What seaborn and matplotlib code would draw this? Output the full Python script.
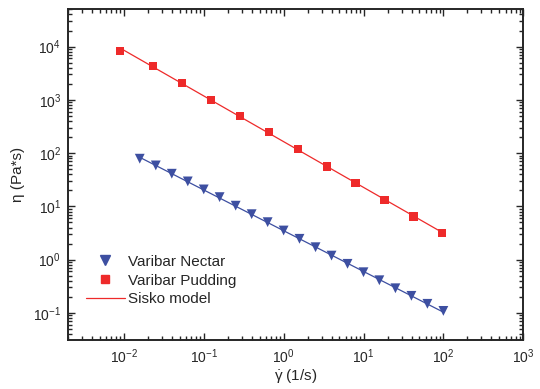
import numpy as np
import pandas as pd
import matplotlib
matplotlib.use('Agg')
import matplotlib.pyplot as plt
from matplotlib.lines import Line2D
import seaborn as sns

# shear rate (1/s) and viscosity (Pa*s)
nectar_rate = [0.0158, 0.0251, 0.0398, 0.0631, 0.1, 0.158, 0.251, 0.398, 0.631, 1.0,
               1.58, 2.51, 3.98, 6.31, 10.0, 15.8, 25.1, 39.8, 63.1, 100.0]
nectar_eta = [78.5, 58.7, 41.0, 29.4, 20.8, 14.9, 10.3, 7.13, 5.05, 3.52,
              2.46, 1.71, 1.19, 0.834, 0.580, 0.410, 0.290, 0.209, 0.148, 0.109]
pudding_rate = [0.0089, 0.0232, 0.0535, 0.123, 0.284, 0.655, 1.51, 3.45, 7.94, 18.3, 42.2, 97.2]
pudding_eta = [8300, 4330, 2100, 1010, 500, 248, 118, 56, 27.3, 13.3, 6.46, 3.18]

blue = '#3d4fa1'
red = '#ee2a2a'

nectar = pd.DataFrame({'rate': nectar_rate, 'eta': nectar_eta})
pudding = pd.DataFrame({'rate': pudding_rate, 'eta': pudding_eta})

# power-law (Sisko) fit in log space
def fit_line(df):
    k, b = np.polyfit(np.log10(df['rate']), np.log10(df['eta']), 1)
    xs = np.logspace(np.log10(df['rate'].min()), np.log10(df['rate'].max()), 50)
    return pd.DataFrame({'rate': xs, 'eta': 10 ** (k * np.log10(xs) + b)})

sns.set_style('ticks')
plt.rcParams['font.family'] = ['Liberation Sans', 'DejaVu Sans']
plt.rcParams['mathtext.default'] = 'regular'
plt.rcParams['axes.unicode_minus'] = False
small_text = 11

fig = plt.figure(figsize=(5.4, 3.89), dpi=100)
ax = fig.add_axes([0.126, 0.126, 0.843, 0.85])

sns.lineplot(data=fit_line(nectar), x='rate', y='eta', color=blue, linewidth=0.9, ax=ax)
sns.lineplot(data=fit_line(pudding), x='rate', y='eta', color=red, linewidth=0.9, ax=ax)
sns.scatterplot(data=nectar, x='rate', y='eta', marker='v', color=blue, s=50,
                edgecolor='none', ax=ax, zorder=3)
sns.scatterplot(data=pudding, x='rate', y='eta', marker='s', color=red, s=34,
                edgecolor='none', ax=ax, zorder=3)

ax.set_xscale('log')
ax.set_yscale('log')
ax.set_xlim(0.002, 1000)
ax.set_ylim(0.031, 5e4)

for side in ['left', 'right', 'top', 'bottom']:
    ax.spines[side].set_linewidth(1.4)
ax.tick_params(which='both', direction='in', top=True, right=True,
               labelsize=small_text - 1, width=1)
ax.tick_params(which='major', length=5, pad=5)
ax.tick_params(which='minor', length=3)

ax.set_xlabel(r'$\dot{\gamma}$ (1/s)', size=small_text, labelpad=1)
ax.set_ylabel('η (Pa*s)', size=small_text, labelpad=6)

handles = [Line2D([0], [0], marker='v', color=blue, linestyle='none', markersize=7.5),
           Line2D([0], [0], marker='s', color=red, linestyle='none', markersize=6),
           Line2D([0], [0], color=red, linewidth=0.9)]
labels = ['Varibar Nectar', 'Varibar Pudding', 'Sisko model']
ax.legend(handles, labels, frameon=False, fontsize=small_text, loc='lower left',
          bbox_to_anchor=(0.01, 0.06), handlelength=2.5, labelspacing=0.32,
          handletextpad=0.2)

fig.savefig('out.png', dpi=100)
